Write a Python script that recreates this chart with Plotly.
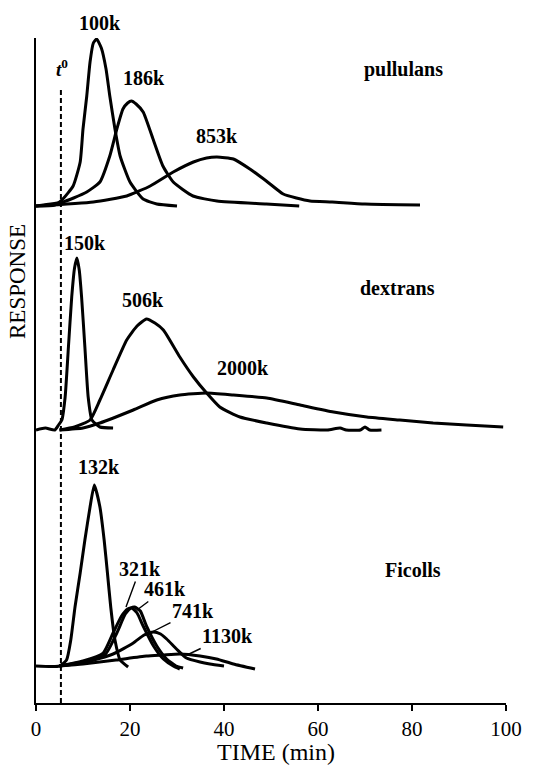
import plotly.graph_objects as go

# ---------------- data (time in min, response relative to each group's baseline) -------------
# group baselines (response units)
base_pullulans = 497
base_dextrans = 273
base_ficolls = 37

# pullulans
p100_t = [0, 4, 5.7, 7.9, 9.4, 10.0, 10.8, 11.5, 12.2, 12.9, 13.9, 14.9, 15.7, 16.8, 17.9, 20.0, 22.8, 25.7, 30]
p100_r = [0, 1, 7, 20, 44, 77, 110, 144, 163, 167, 158, 137, 110, 77, 50, 24, 7, 2, 0]
p186_t = [0, 5.7, 8, 10.8, 13.6, 15.7, 17.2, 18.5, 19.5, 20.3, 21.3, 22.8, 24.9, 27.0, 29.2, 33.4, 38.5, 49, 56]
p186_r = [0, 4, 8, 14, 24, 50, 77, 97, 103, 105, 102, 94, 67, 40, 24, 10, 5, 2, 0]
p853_t = [0, 12.2, 19.3, 24.3, 29.2, 33.5, 36.3, 38.5, 42, 45.5, 49, 52.6, 55.4, 58.3, 63, 70, 81.7]
p853_r = [0, 4, 10, 20, 34, 44, 48, 49, 47, 37, 25, 12, 8, 5, 4, 2, 1]

# dextrans
d150_t = [0, 2, 4, 4.8, 5.5, 6.2, 6.9, 7.6, 8.2, 8.7, 9.2, 9.7, 10.4, 11.1, 11.9, 13.6, 16.4]
d150_r = [0, 2, 0, 5, 10, 33, 83, 133, 162, 172, 160, 133, 83, 33, 10, 3, 2]
d506_t = [5, 8.2, 11.5, 13.6, 16.4, 19.3, 21.5, 23.5, 25.3, 27.1, 30.6, 33.5, 36.3, 39.1, 43.4, 49.1, 56.2, 62,
          64.7, 66, 69, 70, 71, 73.5]
d506_r = [0, 3, 10, 30, 60, 90, 104, 111, 107, 100, 73, 53, 37, 23, 13, 7, 1, 0, 2, 0, 0, 3, 0, 0]
d2000_t = [5, 10, 13.6, 20.7, 25.7, 30.6, 36.3, 42, 49.1, 56.2, 63.3, 70.4, 77.4, 84.5, 91.6, 99.4]
d2000_r = [0, 2, 7, 20, 30, 35, 37, 35, 32, 25, 18, 13, 10, 7, 5, 3]

# ficolls
f132_t = [0, 5, 6.5, 7.4, 8.3, 9.4, 10.4, 11.5, 12.4, 13.6, 14.5, 15.2, 15.9, 16.8, 17.9, 19.6]
f132_r = [0, 0, 6, 26, 59, 93, 126, 159, 181, 159, 126, 93, 59, 26, 6, -1]
f321_t = [5, 10, 14.3, 16.4, 18.2, 19.5, 20.4, 21.5, 22.8, 25, 27.1, 29.2, 30.6]
f321_r = [0, 5, 13, 33, 50, 57, 58, 53, 40, 20, 7, 0, -3]
f461_t = [5, 10, 14.8, 17.2, 19, 20.2, 21, 22.2, 23.5, 25.7, 27.8, 29.8, 31.3]
f461_r = [0, 4, 12, 33, 52, 58, 59, 55, 40, 20, 7, 0, -2]
f741_t = [5, 10.8, 16.4, 20.7, 23, 25, 26.5, 27.8, 29.9, 32, 34.9, 37, 40]
f741_r = [0, 4, 12, 23, 31, 34, 32, 27, 17, 8, 4, 2, 0]
f1130_t = [5, 10, 17, 23.5, 27, 30.6, 34.9, 38.4, 42, 46.6]
f1130_r = [0, 2, 6, 10, 11, 12, 10, 7, 2, -3]

t0 = 5.3
t0_top = 615

x_ticks = [0, 20, 40, 60, 80, 100]
x_tick_labels = ["0", "20", "40", "60", "80", "100"]

curves = [
    (p100_t, p100_r, base_pullulans), (p186_t, p186_r, base_pullulans), (p853_t, p853_r, base_pullulans),
    (d150_t, d150_r, base_dextrans), (d506_t, d506_r, base_dextrans), (d2000_t, d2000_r, base_dextrans),
    (f132_t, f132_r, base_ficolls), (f321_t, f321_r, base_ficolls), (f461_t, f461_r, base_ficolls),
    (f741_t, f741_r, base_ficolls), (f1130_t, f1130_r, base_ficolls),
]

# ---------------- figure ----------------
W, H = 536, 766
ML, MR, MT, MB = 36, 30, 38, 63
XR = [0, 100]
YR = [0, 665]

fig = go.Figure()
for t, r, b in curves:
    fig.add_trace(go.Scatter(x=t, y=[v + b for v in r], mode="lines",
                             line=dict(color="black", width=3, shape="spline", smoothing=0.5),
                             hoverinfo="skip", showlegend=False, cliponaxis=False))

fig.add_trace(go.Scatter(x=[t0, t0], y=[YR[0], t0_top], mode="lines",
                         line=dict(color="black", width=2, dash="5px,3px"),
                         hoverinfo="skip", showlegend=False))


def pxp(px):
    return (px - ML) / (W - ML - MR)


def pyp(py):
    return (H - MB - py) / (H - MT - MB)


def tx(px):
    return XR[0] + pxp(px) * (XR[1] - XR[0])


def ry(py):
    return YR[0] + pyp(py) * (YR[1] - YR[0])


SERIF = "Liberation Serif, Times New Roman, serif"
lab_font = dict(family=SERIF, size=20, color="black")

labels = [
    ("100k", 100, 23), ("186k", 144, 78), ("853k", 217, 136),
    ("pullulans", 403, 70),
    ("150k", 85, 243), ("506k", 143, 300), ("2000k", 243, 368),
    ("dextrans", 397, 288),
    ("132k", 99, 467), ("Ficolls", 413, 570),
]
for text, px, py in labels:
    fig.add_annotation(x=pxp(px), y=pyp(py), xref="paper", yref="paper", text="<b>%s</b>" % text,
                       showarrow=False, font=lab_font, xanchor="center", yanchor="middle")

# labels with leader lines: (text, label px, label py, tip px, tip py)
leaders = [
    ("321k", 140, 569, 126, 607),
    ("461k", 165, 589, 137, 610),
    ("741k", 193, 611, 150, 633),
    ("1130k", 227, 636, 187, 655),
]
for text, lx, ly, px, py in leaders:
    fig.add_annotation(x=tx(px), y=ry(py), ax=tx(lx), ay=ry(ly), axref="x", ayref="y",
                       text="<b>%s</b>" % text, showarrow=True, arrowhead=0, arrowwidth=1.4,
                       arrowcolor="black", standoff=0, font=lab_font)

fig.add_annotation(x=pxp(62), y=pyp(68), xref="paper", yref="paper",
                   text="<b><i>t</i></b><sup><b>0</b></sup>", showarrow=False,
                   xanchor="center", yanchor="middle",
                   font=dict(family=SERIF, size=19, color="black"))

fig.add_annotation(x=pxp(17), y=pyp(282), xref="paper", yref="paper", text="RESPONSE", textangle=-90,
                   xanchor="center", yanchor="middle",
                   showarrow=False, font=dict(family=SERIF, size=23, color="black"))
fig.add_annotation(x=pxp(276), y=pyp(752), xref="paper", yref="paper", text="TIME (min)",
                   xanchor="center", yanchor="middle",
                   showarrow=False, font=dict(family=SERIF, size=24, color="black"))

fig.update_layout(
    width=W, height=H,
    margin=dict(l=ML, r=MR, t=MT, b=MB),
    plot_bgcolor="white", paper_bgcolor="white",
    xaxis=dict(range=XR, showgrid=False, zeroline=False, showline=True, linecolor="black", linewidth=2,
               ticks="outside", ticklen=6, tickwidth=2, tickcolor="black",
               tickvals=x_ticks, ticktext=x_tick_labels,
               tickfont=dict(family=SERIF, size=21, color="black")),
    yaxis=dict(range=YR, showgrid=False, zeroline=False, showline=True, linecolor="black", linewidth=2,
               showticklabels=False, ticks=""),
)

fig.write_html("out.html")
